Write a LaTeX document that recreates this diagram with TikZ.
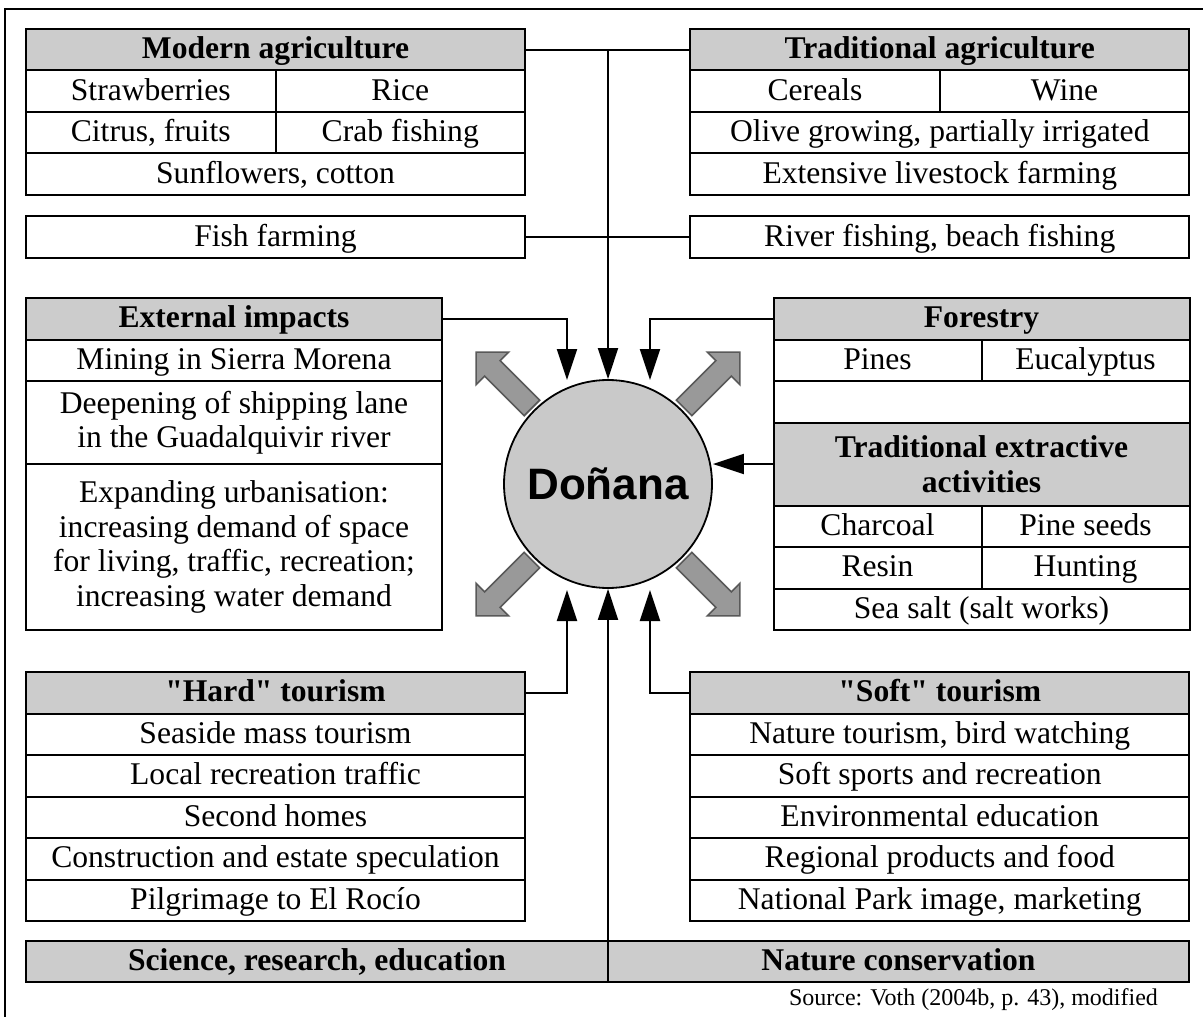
\documentclass[tikz,border=0pt]{standalone}
\usepackage{fontspec}
\setmainfont{Liberation Serif}
\newfontfamily\donanafont{Liberation Sans}
\usetikzlibrary{arrows.meta,positioning}
\definecolor{headgray}{gray}{0.80}
\definecolor{centregray}{gray}{0.79}
\definecolor{outgray}{gray}{0.60}
\tikzset{
	cell/.style={draw, line width=1pt, fill=white, inner sep=0pt, outer sep=0pt, minimum height=20.75pt,
		text height=11.5pt, text depth=2.5pt, align=center, font=\fontsize{15.8}{17.2}\selectfont},
	head/.style={cell, fill=headgray, font=\bfseries\fontsize{15.8}{17.2}\selectfont},
	multi/.style={text height={}, text depth={}},
	wide/.style={minimum width=249.5pt},
	half/.style={minimum width=124.75pt},
	mid/.style={minimum width=208pt},
	quarter/.style={minimum width=104pt},
	arr/.style={line width=1pt, -{Triangle[length=15.5pt,width=10pt]}},
	outarrow/.style={draw=black!65, fill=outgray, line width=0.8pt, line join=miter}
}
\begin{document}
\begin{tikzpicture}[x=0.5pt,y=-0.5pt]
	\useasboundingbox (0,0) rectangle (1203,1016);
	\draw[line width=1pt] (5,9) rectangle (1215,1030);

	% agriculture
	\node (MA) at (275.5,49.75)	[head, wide]	{Modern agriculture};
	\node (MA1) at (MA.south west)	[cell, half, anchor=north west]	{Strawberries};
	\node (MA2) at (MA.south east)	[cell, half, anchor=north east]	{Rice};
	\node (MA3) at (MA1.south west)	[cell, half, anchor=north west]	{Citrus, fruits};
	\node (MA4) at (MA2.south east)	[cell, half, anchor=north east]	{Crab fishing};
	\node (MA5) [cell, wide, below=0pt of MA3.south east]	{Sunflowers, cotton};

	\node (TA) at (939.75,49.75)	[head, wide]	{Traditional agriculture};
	\node (TA1) at (TA.south west)	[cell, half, anchor=north west]	{Cereals};
	\node (TA2) at (TA.south east)	[cell, half, anchor=north east]	{Wine};
	\node (TA3) [cell, wide, below=0pt of TA1.south east]	{Olive growing, partially irrigated};
	\node (TA4) [cell, wide, below=0pt of TA3]	{Extensive livestock farming};

	\node (FF) at (275.5,237)	[cell, wide]	{Fish farming};
	\node (RF) at (939.75,237)	[cell, wide]	{River fishing, beach fishing};

	% impacts and forestry
	\node (EI) at (234,318.75)	[head, mid]	{External impacts};
	\node (EI1) [cell, mid, below=0pt of EI]	{Mining in Sierra Morena};
	\node (EI2) [cell, mid, multi, minimum height=41.5pt, below=0pt of EI1]	{Deepening of shipping lane\\in the Guadalquivir river};
	\node (EI3) [cell, mid, multi, minimum height=83pt, below=0pt of EI2]
		{Expanding urbanisation:\\increasing demand of space\\for living, traffic, recreation;\\increasing water demand};

	\node (FO) at (981.5,318.75)	[head, mid]	{Forestry};
	\node (FO1) at (FO.south west)	[cell, quarter, anchor=north west]	{Pines};
	\node (FO2) at (FO.south east)	[cell, quarter, anchor=north east]	{Eucalyptus};
	\node (FO3) [cell, mid, below=0pt of FO1.south east]	{};
	\node (TE) [head, mid, multi, minimum height=41.5pt, below=0pt of FO3]	{Traditional extractive\\activities};
	\node (TE1) at (TE.south west)	[cell, quarter, anchor=north west]	{Charcoal};
	\node (TE2) at (TE.south east)	[cell, quarter, anchor=north east]	{Pine seeds};
	\node (TE3) at (TE1.south west)	[cell, quarter, anchor=north west]	{Resin};
	\node (TE4) at (TE2.south east)	[cell, quarter, anchor=north east]	{Hunting};
	\node (TE5) [cell, mid, below=0pt of TE3.south east]	{Sea salt (salt works)};

	% tourism
	\node (HT) at (275.5,692.75)	[head, wide]	{\textquotedbl Hard\textquotedbl{} tourism};
	\node (HT1) [cell, wide, below=0pt of HT]	{Seaside mass tourism};
	\node (HT2) [cell, wide, below=0pt of HT1]	{Local recreation traffic};
	\node (HT3) [cell, wide, below=0pt of HT2]	{Second homes};
	\node (HT4) [cell, wide, below=0pt of HT3]	{Construction and estate speculation};
	\node (HT5) [cell, wide, below=0pt of HT4]	{Pilgrimage to El Rocío};

	\node (ST) at (939.75,692.75)	[head, wide]	{\textquotedbl Soft\textquotedbl{} tourism};
	\node (ST1) [cell, wide, below=0pt of ST]	{Nature tourism, bird watching};
	\node (ST2) [cell, wide, below=0pt of ST1]	{Soft sports and recreation};
	\node (ST3) [cell, wide, below=0pt of ST2]	{Environmental education};
	\node (ST4) [cell, wide, below=0pt of ST3]	{Regional products and food};
	\node (ST5) [cell, wide, below=0pt of ST4]	{National Park image, marketing};

	\node (SC) at (608,940.5)	[head, minimum width=291pt, anchor=north east]	{Science, research, education};
	\node (NC) at (SC.north east)	[head, minimum width=290.5pt, anchor=north west]	{Nature conservation};

	% centre
	\node (Don) at (608,484)	[circle, draw, line width=0.9pt, fill=centregray, minimum size=104pt, inner sep=0pt,
		font=\donanafont\bfseries\fontsize{22}{26}\selectfont]	{Doñana};
	\foreach \ang/\px/\py in {135/504/380, 45/712/380, -45/712/588, -135/504/588}
		\draw[outarrow, shift={(\px,\py)}, rotate=\ang]
			(-39.5,-11) -- (16.5,-11) -- (16.5,-23) -- (39.5,0) -- (16.5,23) -- (16.5,11) -- (-39.5,11) -- cycle;

	\coordinate (inTL) at (567,380);
	\coordinate (inTR) at (650,380);
	\coordinate (inBL) at (567,590);
	\coordinate (inBR) at (650,590);

	\draw[line width=1pt] (MA.east) -- (TA.west);
	\draw[line width=1pt] (FF.east) -- (RF.west);
	\draw[arr] (MA.east -| Don.north) -- (Don.north);
	\draw[arr] (EI.east) -| (inTL);
	\draw[arr] (FO.west) -| (inTR);
	\draw[arr] (TE.west) -- (TE.west -| Don.east);
	\draw[arr] (HT.east) -| (inBL);
	\draw[arr] (ST.west) -| (inBR);
	\draw[arr] (SC.north east) -- (Don.south);

	\node (src) at (1165,1005) [anchor=base east, font=\fontsize{12}{14}\selectfont]	{Source: Voth (2004b, p. 43), modified};
\end{tikzpicture}
\end{document}
